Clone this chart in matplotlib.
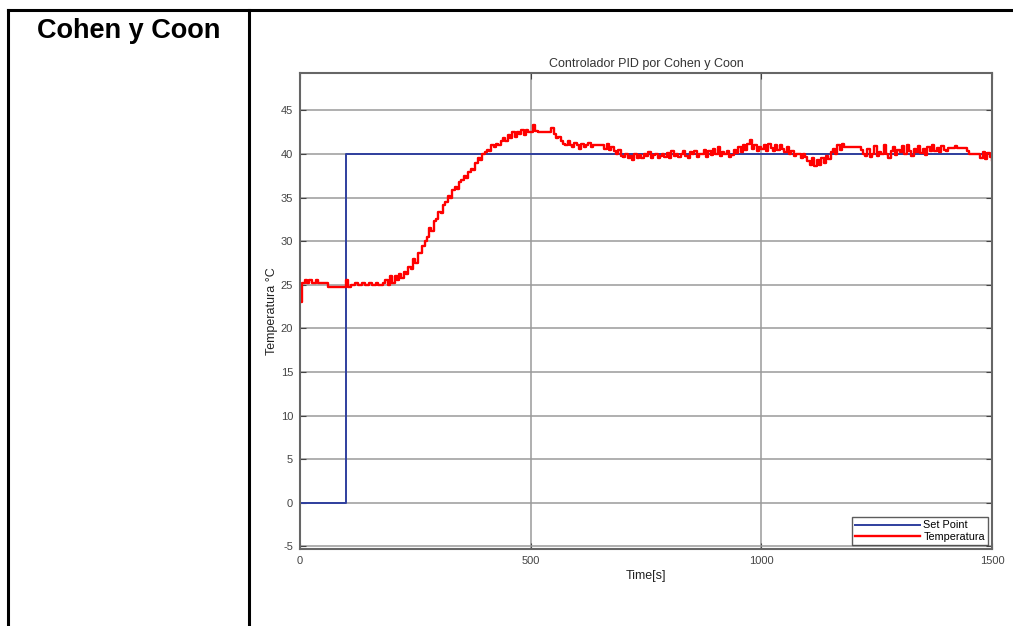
import numpy as np
import matplotlib
matplotlib.use("Agg")
import matplotlib.pyplot as plt
from matplotlib.lines import Line2D

plt.rcParams["font.family"] = ["Liberation Sans", "DejaVu Sans"]
plt.rcParams["axes.unicode_minus"] = False

# step reference
setpoint_t = [0, 100, 100, 1500]
setpoint_v = [0, 0, 40, 40]

temp_step = 5
temperatura = [
    23.0, 25.2, 25.5, 25.2, 25.5, 25.2, 25.2, 25.5, 25.2, 25.2, 25.2, 25.2, 24.8, 24.8, 24.8, 24.8, 24.8, 24.8, 24.8, 24.8,
    25.6, 24.8, 25.0, 25.0, 25.2, 25.0, 25.0, 25.2, 25.0, 25.0, 25.2, 25.0, 25.0, 25.2, 25.0, 25.0, 25.2, 25.6, 25.0, 26.0,
    25.2, 26.0, 25.5, 26.2, 25.8, 26.5, 26.2, 27.0, 26.8, 28.0, 27.5, 28.6, 28.6, 29.5, 30.0, 30.5, 31.5, 31.2, 32.3, 32.5,
    33.4, 33.2, 34.2, 34.5, 35.2, 35.0, 35.9, 36.2, 36.0, 36.8, 37.0, 37.5, 37.2, 38.0, 38.3, 38.2, 39.0, 39.5, 39.3, 40.0,
    40.2, 40.5, 40.3, 41.0, 40.8, 41.2, 41.0, 41.5, 41.8, 41.5, 42.2, 41.8, 42.5, 42.0, 42.5, 42.3, 42.8, 42.2, 42.8, 42.5,
    42.5, 43.3, 42.6, 42.5, 42.5, 42.5, 42.5, 42.5, 42.5, 43.0, 42.3, 41.8, 42.0, 41.5, 41.2, 41.0, 41.5, 41.0, 40.8, 41.3,
    41.0, 40.6, 41.2, 40.8, 41.0, 41.3, 40.8, 41.0, 41.0, 41.0, 41.0, 41.0, 40.6, 41.2, 40.5, 40.8, 40.3, 40.0, 40.5, 39.8,
    39.7, 40.0, 39.5, 39.8, 39.3, 40.0, 39.6, 39.9, 39.5, 40.0, 39.8, 40.2, 39.6, 39.9, 40.0, 39.5, 39.8, 40.0, 39.7, 40.1,
    39.6, 40.3, 39.8, 40.0, 39.7, 40.0, 40.4, 39.8, 39.6, 40.2, 40.0, 40.3, 39.7, 40.0, 40.0, 40.5, 39.7, 40.4, 39.9, 40.6,
    40.0, 40.8, 39.8, 40.2, 40.0, 40.4, 39.7, 39.9, 40.5, 40.1, 40.8, 40.2, 41.0, 40.5, 41.2, 41.6, 40.6, 41.0, 40.4, 40.8,
    40.6, 41.0, 40.4, 41.2, 40.7, 40.3, 41.0, 40.5, 41.0, 40.6, 40.2, 40.8, 40.0, 40.3, 39.8, 40.0, 40.0, 39.5, 40.0, 39.7,
    39.2, 38.8, 39.5, 38.6, 39.3, 38.8, 39.6, 39.0, 39.8, 39.4, 40.2, 40.6, 40.0, 41.0, 40.5, 41.2, 40.8, 40.8, 40.8, 40.8,
    40.8, 40.8, 40.8, 40.5, 40.0, 39.8, 40.6, 39.7, 40.0, 40.9, 39.8, 40.2, 40.0, 41.0, 40.0, 39.6, 40.3, 40.8, 39.9, 40.5,
    40.2, 40.9, 40.0, 41.0, 40.3, 39.8, 40.6, 40.2, 40.9, 40.1, 40.6, 39.9, 40.8, 40.3, 41.0, 40.4, 40.7, 40.2, 40.9, 40.5,
    40.3, 40.7, 40.7, 40.7, 40.9, 40.7, 40.7, 40.7, 40.7, 40.3, 40.0, 40.0, 40.0, 40.0, 40.0, 39.6, 40.2, 39.4, 40.1, 39.7,
    39.3,
]
temp_t = np.arange(len(temperatura)) * temp_step

x_ticks = [0, 500, 1000, 1500]
y_ticks = [-5, 0, 5, 10, 15, 20, 25, 30, 35, 40, 45]

blue = "#2f3f9e"
red = "#ff0000"
tick_gray = "#444444"

fig = plt.figure(figsize=(10.13, 6.26), dpi=100)

# table borders around the chart
fig.add_artist(Line2D([8 / 1013, 1.0], [1 - 10 / 626] * 2, color="black", lw=2.2))
fig.add_artist(Line2D([8 / 1013] * 2, [0, 1 - 10 / 626], color="black", lw=2.2))
fig.add_artist(Line2D([249 / 1013] * 2, [0, 1 - 10 / 626], color="black", lw=2.2))
fig.text(129 / 1013, 1 - 31 / 626, "Cohen y Coon", ha="center", va="center",
         fontsize=19.5, fontweight="bold")

ax = fig.add_axes([300 / 1013, 1 - 549 / 626, 692 / 1013, 476 / 626])
ax.plot(setpoint_t, setpoint_v, color=blue, lw=1.4, label="Set Point")
ax.plot(temp_t, temperatura, color=red, lw=1.7, drawstyle="steps-post", label="Temperatura")

ax.set_xlim(0, 1500)
ax.set_ylim(-5.3, 49.3)
ax.set_xticks(x_ticks)
ax.set_yticks(y_ticks)
ax.grid(True, color="#9a9a9a", lw=1.1)
ax.tick_params(direction="in", length=4, labelsize=8, colors=tick_gray,
               top=True, right=True, pad=5)
for s in ax.spines.values():
    s.set_color("#666666")
    s.set_linewidth(1.5)

ax.set_title("Controlador PID por Cohen y Coon", fontsize=9, color="#333333", pad=4)
ax.set_xlabel("Time[s]", fontsize=9, color="#222222", labelpad=3)
ax.set_ylabel("Temperatura °C", fontsize=9, color="#222222", labelpad=2)

leg = ax.legend(loc="lower right", fontsize=7.8, frameon=True, fancybox=False,
                borderpad=0.3, handlelength=6.0, handletextpad=0.3,
                labelspacing=0.15, borderaxespad=0.35)
leg.get_frame().set_edgecolor("#333333")
leg.get_frame().set_linewidth(1.0)

fig.savefig("out.png", dpi=100)
